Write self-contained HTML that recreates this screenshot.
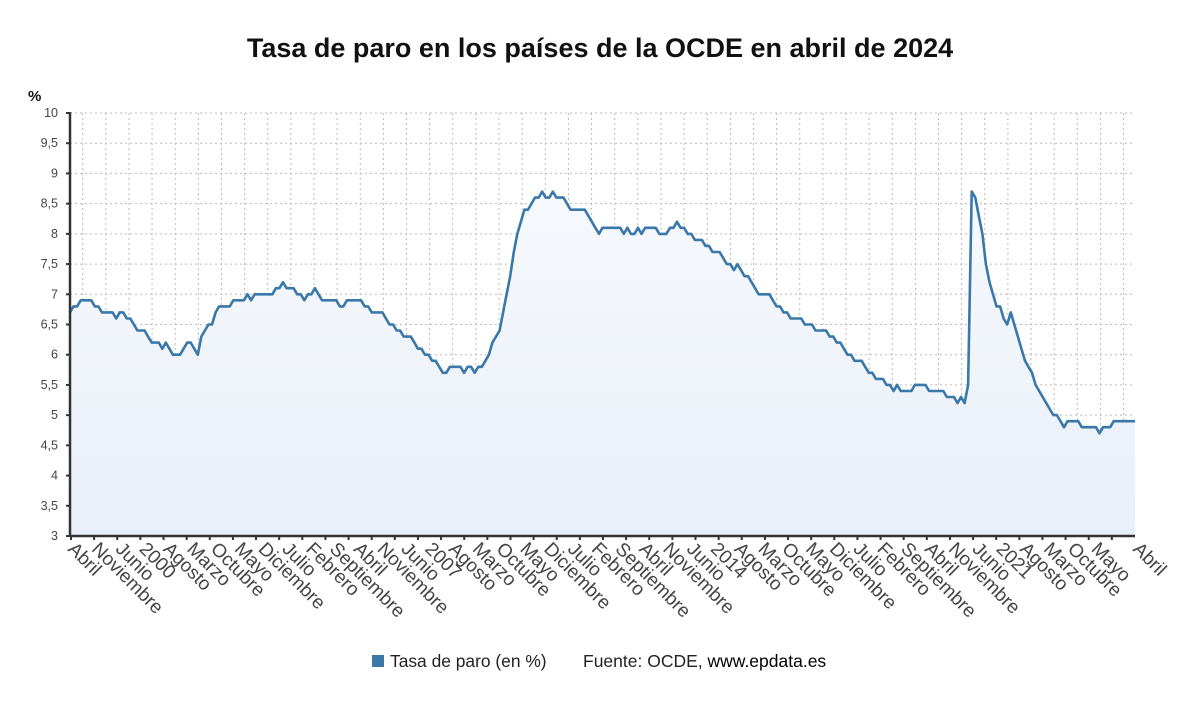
<!DOCTYPE html>
<html><head><meta charset="utf-8"><style>
body{margin:0;background:#fff;width:1200px;height:705px;overflow:hidden;font-family:"Liberation Sans",sans-serif}
svg{display:block}
</style></head><body>
<svg id="chart" width="1200" height="705">
<defs><linearGradient id="fillg" x1="0" y1="0" x2="0" y2="1"><stop offset="0" stop-color="#f6f9fd"/><stop offset="1" stop-color="#e9eff8"/></linearGradient></defs>
<text x="600" y="57" text-anchor="middle" font-size="27" font-weight="bold" fill="#111">Tasa de paro en los países de la OCDE en abril de 2024</text>
<text x="28" y="101" font-size="15" font-weight="bold" fill="#111">%</text>
<g id="grid"></g><g id="series"></g><g id="axes"></g>
<g>
<rect x="372" y="655" width="12" height="12" fill="#3a78aa"/>
<text x="390" y="667" font-size="17.4" fill="#222">Tasa de paro (en %)</text>
<text x="583" y="667" font-size="17.5" fill="#222">Fuente: OCDE, <tspan fill="#000">www.epdata.es</tspan></text>
</g>
</svg>
<script>
const yTicks=[3,3.5,4,4.5,5,5.5,6,6.5,7,7.5,8,8.5,9,9.5,10];
const yTickLabels=["3","3,5","4","4,5","5","5,5","6","6,5","7","7,5","8","8,5","9","9,5","10"];
const xLabels=["Abril","Noviembre","Junio","2000","Agosto","Marzo","Octubre","Mayo","Diciembre","Julio","Febrero","Septiembre","Abril","Noviembre","Junio","2007","Agosto","Marzo","Octubre","Mayo","Diciembre","Julio","Febrero","Septiembre","Abril","Noviembre","Junio","2014","Agosto","Marzo","Octubre","Mayo","Diciembre","Julio","Febrero","Septiembre","Abril","Noviembre","Junio","2021","Agosto","Marzo","Octubre","Mayo"];
const lastLabel="Abril";
const rate=[6.7,6.8,6.8,6.9,6.9,6.9,6.9,6.8,6.8,6.7,6.7,6.7,6.7,6.6,6.7,6.7,6.6,6.6,6.5,6.4,
6.4,6.4,6.3,6.2,6.2,6.2,6.1,6.2,6.1,6.0,6.0,6.0,6.1,6.2,6.2,6.1,6.0,6.3,6.4,6.5,
6.5,6.7,6.8,6.8,6.8,6.8,6.9,6.9,6.9,6.9,7.0,6.9,7.0,7.0,7.0,7.0,7.0,7.0,7.1,7.1,
7.2,7.1,7.1,7.1,7.0,7.0,6.9,7.0,7.0,7.1,7.0,6.9,6.9,6.9,6.9,6.9,6.8,6.8,6.9,6.9,
6.9,6.9,6.9,6.8,6.8,6.7,6.7,6.7,6.7,6.6,6.5,6.5,6.4,6.4,6.3,6.3,6.3,6.2,6.1,6.1,
6.0,6.0,5.9,5.9,5.8,5.7,5.7,5.8,5.8,5.8,5.8,5.7,5.8,5.8,5.7,5.8,5.8,5.9,6.0,6.2,
6.3,6.4,6.7,7.0,7.3,7.7,8.0,8.2,8.4,8.4,8.5,8.6,8.6,8.7,8.6,8.6,8.7,8.6,8.6,8.6,
8.5,8.4,8.4,8.4,8.4,8.4,8.3,8.2,8.1,8.0,8.1,8.1,8.1,8.1,8.1,8.1,8.0,8.1,8.0,8.0,
8.1,8.0,8.1,8.1,8.1,8.1,8.0,8.0,8.0,8.1,8.1,8.2,8.1,8.1,8.0,8.0,7.9,7.9,7.9,7.8,
7.8,7.7,7.7,7.7,7.6,7.5,7.5,7.4,7.5,7.4,7.3,7.3,7.2,7.1,7.0,7.0,7.0,7.0,6.9,6.8,
6.8,6.7,6.7,6.6,6.6,6.6,6.6,6.5,6.5,6.5,6.4,6.4,6.4,6.4,6.3,6.3,6.2,6.2,6.1,6.0,
6.0,5.9,5.9,5.9,5.8,5.7,5.7,5.6,5.6,5.6,5.5,5.5,5.4,5.5,5.4,5.4,5.4,5.4,5.5,5.5,
5.5,5.5,5.4,5.4,5.4,5.4,5.4,5.3,5.3,5.3,5.2,5.3,5.2,5.5,8.7,8.6,8.3,8.0,7.5,7.2,
7.0,6.8,6.8,6.6,6.5,6.7,6.5,6.3,6.1,5.9,5.8,5.7,5.5,5.4,5.3,5.2,5.1,5.0,5.0,4.9,
4.8,4.9,4.9,4.9,4.9,4.8,4.8,4.8,4.8,4.8,4.7,4.8,4.8,4.8,4.9,4.9,4.9,4.9,4.9,4.9,4.9];

const NS="http://www.w3.org/2000/svg";
const L=70,R=1135,T=113,B=536;
function xScale(i){return L+(R-L)*i/(rate.length-1);}
function yScale(v){return B-(v-3)/7*(B-T);}
function mk(tag,attrs,parent){const e=document.createElementNS(NS,tag);for(const k in attrs)e.setAttribute(k,attrs[k]);parent.appendChild(e);return e;}
const grid=document.getElementById('grid'),axes=document.getElementById('axes'),series=document.getElementById('series');
const tickStep=23.13, labelStep=23.8;
yTicks.forEach((v,i)=>{
  const y=yScale(v);
  if(i>0){const g=mk('line',{x1:L,x2:R,y1:y,y2:y,stroke:'#bbb','stroke-dasharray':'2,3','stroke-width':1},grid);
  
  }
  const t=mk('line',{x1:L-4,x2:L,y1:y,y2:y,stroke:'#333','stroke-width':2},axes);
  
  
  const tx=mk('text',{x:58,y:y+4,'text-anchor':'end','font-size':12.5,fill:'#444'},axes);
  tx.textContent=yTickLabels[i];
  
  
});
for(let k=0;k<46;k++){
  const x=82.7+tickStep*k;
  const g=mk('line',{x1:x,x2:x,y1:T,y2:B,stroke:'#bbb','stroke-dasharray':'2,3','stroke-width':1},grid);
  
  
}
let d='';rate.forEach((v,i)=>{d+=(i?'L':'M')+xScale(i).toFixed(1)+','+yScale(v).toFixed(1);});
const area=mk('path',{d:d+'L'+R+','+B+'L'+L+','+B+'Z',fill:'url(#fillg)'},series);


const line=mk('path',{d:d,fill:'none',stroke:'#3a78aa','stroke-width':2.6,'stroke-linejoin':'round'},series);


const ya=mk('line',{x1:L,x2:L,y1:T-1,y2:B+1,stroke:'#333','stroke-width':2.5},axes);


const xa=mk('line',{x1:L,x2:R,y1:B,y2:B,stroke:'#333','stroke-width':2.5},axes);


for(let k=0;k<46;k++){
  const x=71+tickStep*k;
  const t=mk('line',{x1:x,x2:x,y1:B,y2:B+4,stroke:'#333','stroke-width':2},axes);
  
  
}
xLabels.forEach((s,k)=>{
  const x=67+labelStep*k;
  const tx=mk('text',{x:x,y:B+14,'font-size':19,fill:'#444',transform:'rotate(45 '+x+' '+(B+14)+')'},axes);
  tx.textContent=s;
  
  
});
const lt=mk('text',{x:1132,y:B+14,'font-size':19,fill:'#444',transform:'rotate(45 1132 '+(B+14)+')'},axes);
lt.textContent=lastLabel;


</script>
</body></html>
